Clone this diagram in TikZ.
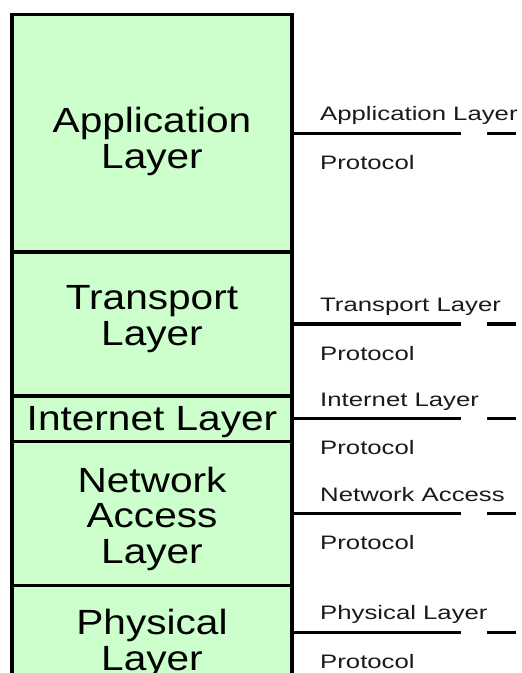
\documentclass[tikz,border=0pt]{standalone}
\usepackage{fontspec}
\setmainfont{Liberation Sans}
\newfontfamily\layerfont[FakeStretch=1.16]{Liberation Sans}
\newfontfamily\protofont[FakeStretch=1.32]{Liberation Sans}
\definecolor{layergreen}{HTML}{CCFFCC}
\definecolor{protogray}{HTML}{1A1A1A}
\tikzset{
  layerbox/.style={draw, line width=3.3pt, fill=layergreen, anchor=north west,
    minimum width=280pt, inner sep=0pt, outer sep=0pt},
  layername/.style={font={\layerfont\fontsize{35}{35.5}\selectfont}, align=center,
    anchor=base, inner sep=0pt},
  protolabel/.style={font={\protofont\fontsize{19.5}{22}\selectfont}, text=protogray,
    anchor=base west, inner sep=0pt},
  peerline/.style={line width=3.3pt, dash pattern=on 169pt off 26pt on 40pt}
}
\begin{document}
\begin{tikzpicture}[x=1pt,y=-1pt]
  \useasboundingbox (0,0) rectangle (522,673);
  \clip (0,0) rectangle (522,673);
  % the stack of layers
  \node[layerbox, minimum height=237.7pt] (app) at (12,14.3) {};
  \node[layerbox, minimum height=144pt] (trans) at (12,252) {};
  \node[layerbox, minimum height=45.5pt] (inet) at (12,396) {};
  \node[layerbox, minimum height=144pt] (netacc) at (12,441.5) {};
  \node[layerbox, minimum height=93.5pt] (phys) at (12,585.5) {};
  % base of a name is its last line
  \node[layername] (appname) at (152,168) {Application\\Layer};
  \node[layername] (transname) at (152,345) {Transport\\Layer};
  \node[layername] (inetname) at (152,430) {Internet Layer};
  \node[layername] (netaccname) at (152,563) {Network\\Access\\Layer};
  \node[layername] (physname) at (152,670) {Physical\\Layer};
  % protocol lines
  \coordinate (rim) at (516,0);
  \coordinate (protox) at (320,0);
  \foreach \lay/\txt in {app/Application Layer, trans/Transport Layer,
      inet/Internet Layer, netacc/Network Access, phys/Physical Layer} {
    \draw[peerline] (\lay.east) -- (\lay.east -| rim);
    \node[protolabel, yshift=12.5pt] (\lay-lbl) at (\lay.east -| protox) {\txt};
    \node[protolabel, yshift=-36pt] (\lay-proto) at (\lay.east -| protox) {Protocol};
  }
\end{tikzpicture}
\end{document}
